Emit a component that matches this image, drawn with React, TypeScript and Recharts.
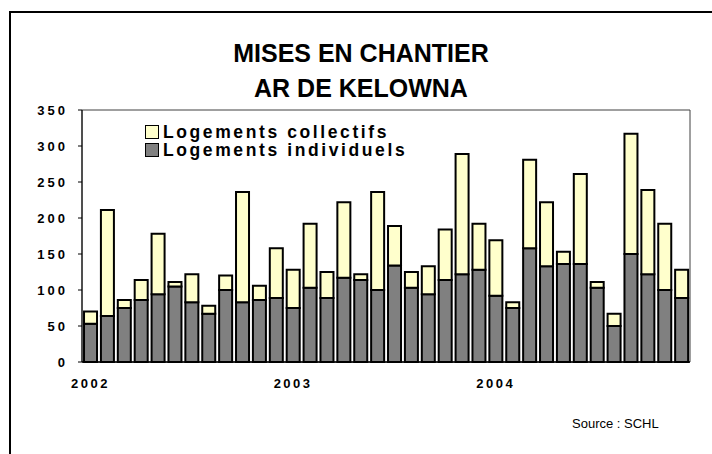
import { BarChart, Bar, XAxis, YAxis, ReferenceArea } from 'recharts';

// Mises en chantier, AR de Kelowna, mensuel 2002-2004
const years = ['2002', '2003', '2004'];
const monthNames = ['janv', 'févr', 'mars', 'avr', 'mai', 'juin', 'juil', 'août', 'sept', 'oct', 'nov', 'déc'];
const categories = years.flatMap((y) => monthNames.map((m) => `${m} ${y}`));

const individuels = [
  53, 64, 75, 86, 94, 105, 83, 67, 100, 83, 86, 89,
  75, 103, 89, 117, 114, 100, 134, 103, 94, 114, 122, 128,
  92, 75, 158, 133, 136, 136, 103, 50, 150, 122, 100, 89,
];
const collectifs = [
  17, 147, 11, 28, 84, 6, 39, 11, 20, 153, 20, 69,
  53, 89, 36, 105, 8, 136, 55, 22, 39, 70, 167, 64,
  77, 8, 123, 89, 17, 125, 8, 17, 167, 117, 92, 39,
];
const yTicks = [0, 50, 100, 150, 200, 250, 300, 350];
const edgeTicks = [...categories.map((_, i) => i), categories.length];

const data = categories.map((month, i) => ({
  month,
  individuels: individuels[i],
  collectifs: collectifs[i],
}));

const FONT = '"Liberation Sans", Arial, sans-serif';

export default function App() {
  return (
    <div style={{ position: 'absolute', left: 0, top: 0, width: 712, height: 454, overflow: 'hidden', background: '#fff', fontFamily: FONT }}>
      <div style={{ position: 'absolute', left: 9, top: 11, width: 800, height: 600, border: '2px solid #000' }} />
      <div style={{ position: 'absolute', left: 161, width: 400, top: 36, textAlign: 'center', fontWeight: 'bold', fontSize: 25, lineHeight: '35px', color: '#000' }}>
        MISES EN CHANTIER<br />AR DE KELOWNA
      </div>
      <BarChart
        width={712}
        height={454}
        data={data}
        margin={{ top: 110, right: 22, left: 42, bottom: 61 }}
        barCategoryGap="12%"
        style={{ position: 'absolute', left: 0, top: 0 }}
      >
        <XAxis
          xAxisId="edges"
          type="number"
          domain={[0, categories.length]}
          ticks={edgeTicks}
          tick={false}
          tickSize={4}
          axisLine={false}
          tickLine={{ stroke: '#000' }}
          height={1}
        />
        <XAxis
          xAxisId="cat"
          dataKey="month"
          interval={0}
          height={30}
          tickLine={false}
          tickSize={0}
          tickMargin={17}
          axisLine={{ stroke: '#000', strokeWidth: 1.5 }}
          tickFormatter={(v: string) => (v.startsWith('janv') ? v.slice(-4) : '')}
          tick={{ fontSize: 13, fontWeight: 'bold', fill: '#000', fontFamily: FONT, letterSpacing: 2.5 }}
        />
        <YAxis
          domain={[0, 350]}
          ticks={yTicks}
          width={40}
          tickSize={4}
          tickMargin={10}
          axisLine={{ stroke: '#000' }}
          tickLine={{ stroke: '#000' }}
          tick={{ fontSize: 13, fontWeight: 'bold', fill: '#000', fontFamily: FONT, letterSpacing: 3 }}
        />
        <ReferenceArea xAxisId="cat" y1={0} y2={350} fill="none" stroke="#404040" strokeWidth={1} ifOverflow="visible" />
        <Bar xAxisId="cat" dataKey="individuels" stackId="a" fill="#808080" stroke="#000" strokeWidth={2} isAnimationActive={false} />
        <Bar xAxisId="cat" dataKey="collectifs" stackId="a" fill="#FFFFCC" stroke="#000" strokeWidth={2} isAnimationActive={false} />
      </BarChart>
      <div style={{ position: 'absolute', left: 145, top: 123, fontWeight: 'bold', fontSize: 17.5, lineHeight: '18px', letterSpacing: 2.6, color: '#000' }}>
        {[
          { label: 'Logements collectifs', color: '#FFFFCC' },
          { label: 'Logements individuels', color: '#808080' },
        ].map((item) => (
          <div key={item.label} style={{ display: 'flex', alignItems: 'center', height: 18 }}>
            <span style={{ display: 'inline-block', width: 12, height: 12, background: item.color, border: '1.5px solid #000', marginRight: 4 }} />
            <span>{item.label}</span>
          </div>
        ))}
      </div>
      <div style={{ position: 'absolute', left: 572, top: 416, fontSize: 13, color: '#000' }}>Source : SCHL</div>
    </div>
  );
}
